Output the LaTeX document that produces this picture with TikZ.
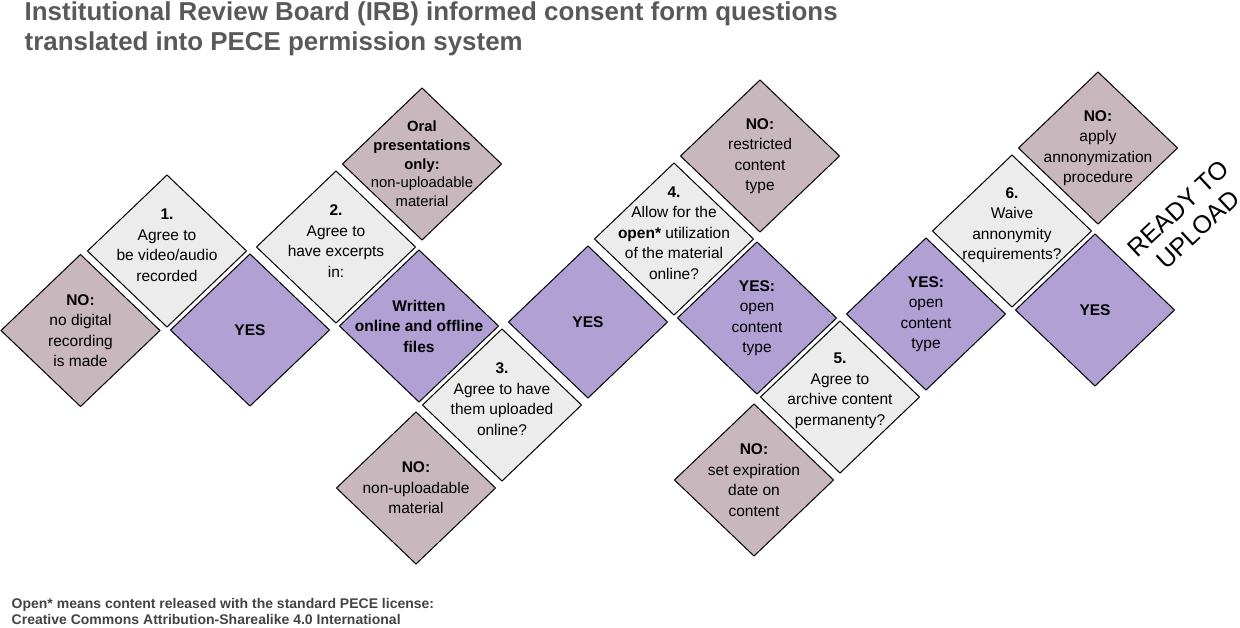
\documentclass[tikz,border=0pt]{standalone}
\usepackage{fontspec}
\setmainfont{Liberation Sans}
\usetikzlibrary{positioning}
\usetikzlibrary{shapes.geometric}

\definecolor{qgray}{RGB}{236,236,236}
\definecolor{nomauve}{RGB}{200,184,190}
\definecolor{yespurple}{RGB}{176,160,212}
\definecolor{titlegray}{RGB}{89,89,89}
\definecolor{notegray}{RGB}{67,67,67}

\tikzset{
    diabox/.style={shape=diamond, draw=black, line width=1pt, inner sep=0pt, outer sep=0pt,
        minimum width=159pt, minimum height=152pt},
    qbox/.style={diabox, fill=qgray},
    nobox/.style={diabox, fill=nomauve},
    yesbox/.style={diabox, fill=yespurple},
    txt/.style={align=center, inner sep=0pt, font=\fontsize{15.5}{20.5}\selectfont},
    qtxt/.style={txt, yshift=6pt},
    smalltxt/.style={align=center, inner sep=0pt, font=\fontsize{14.8}{18.7}\selectfont},
}

\begin{document}
\begin{tikzpicture}[x=1pt, y=-1pt]
    \useasboundingbox (0,0) rectangle (1240,627);

    % title and footnote
    \node[anchor=north west, inner sep=0pt, align=left, text=titlegray,
        font=\fontsize{25.9}{30}\selectfont\bfseries] (title) at (24.5,2)
        {Institutional Review Board (IRB) informed consent form questions\\translated into PECE permission system};
    \node[anchor=north west, inner sep=0pt, align=left, text=notegray,
        font=\fontsize{14}{15.5}\selectfont\bfseries] (note) at (11.5,598.5)
        {Open* means content released with the standard PECE license:\\Creative Commons Attribution-Sharealike 4.0 International};

    % question 1
    \node[qbox, label={[qtxt]center:{\textbf{1.}\\Agree to\\be video/audio\\recorded}}] (q1) at (167,251) {};
    \node[nobox, below left=3.5pt and 7pt of q1, label={[txt]center:{\textbf{NO:}\\no digital\\recording\\is made}}] (no1) {};
    \node[yesbox, below right=3pt and 3.5pt of q1, label={[txt]center:{\textbf{YES}}}] (yes1) {};

    % question 2
    \node[qbox, above right=7pt and 6.5pt of yes1, label={[qtxt]center:{\textbf{2.}\\Agree to\\have excerpts\\in:}}] (q2) {};
    \node[nobox, above right=7pt and 6.5pt of q2, label={[smalltxt]center:{\textbf{Oral}\\\textbf{presentations}\\\textbf{only:}\\non-uploadable\\material}}] (oral) {};
    \node[yesbox, below right=3pt and 3.5pt of q2, label={[txt]center:{\textbf{Written}\\\textbf{online and offline}\\\textbf{files}}}] (written) {};

    % question 3
    \node[qbox, below right=3pt and 3.5pt of written, label={[qtxt]center:{\textbf{3.}\\Agree to have\\them uploaded\\online?}}] (q3) {};
    \node[nobox, below left=7pt and 6.5pt of q3, label={[txt]center:{\textbf{NO:}\\non-uploadable\\material}}] (no3) {};
    \node[yesbox, above right=7pt and 6.5pt of q3, label={[txt]center:{\textbf{YES}}}] (yes3) {};

    % question 4
    \node[qbox, above right=7pt and 6.5pt of yes3, label={[qtxt]center:{\textbf{4.}\\Allow for the\\\textbf{open*} utilization\\of the material\\online?}}] (q4) {};
    \node[nobox, above right=7pt and 6.5pt of q4, label={[txt]center:{\textbf{NO:}\\restricted\\content\\type}}] (no4) {};
    \node[yesbox, below right=3pt and 3.5pt of q4, label={[txt]center:{\textbf{YES:}\\open\\content\\type}}] (yes4) {};

    % question 5
    \node[qbox, below right=3pt and 3.5pt of yes4, label={[qtxt]center:{\textbf{5.}\\Agree to\\archive content\\permanenty?}}] (q5) {};
    \node[nobox, below left=7pt and 6.5pt of q5, label={[txt]center:{\textbf{NO:}\\set expiration\\date on\\content}}] (no5) {};
    \node[yesbox, above right=7pt and 6.5pt of q5, label={[txt]center:{\textbf{YES:}\\open\\content\\type}}] (yes5) {};

    % question 6
    \node[qbox, above right=7pt and 6.5pt of yes5, label={[qtxt]center:{\textbf{6.}\\Waive\\annonymity\\requirements?}}] (q6) {};
    \node[nobox, above right=7pt and 6.5pt of q6, label={[txt]center:{\textbf{NO:}\\apply\\annonymization\\procedure}}] (no6) {};
    \node[yesbox, below right=3pt and 3.5pt of q6, label={[txt]center:{\textbf{YES}}}] (yes6) {};

    \node[rotate=43, align=center, inner sep=0pt, font=\fontsize{25}{29}\selectfont] (ready) at (1188,219) {READY TO\\UPLOAD};
\end{tikzpicture}
\end{document}
